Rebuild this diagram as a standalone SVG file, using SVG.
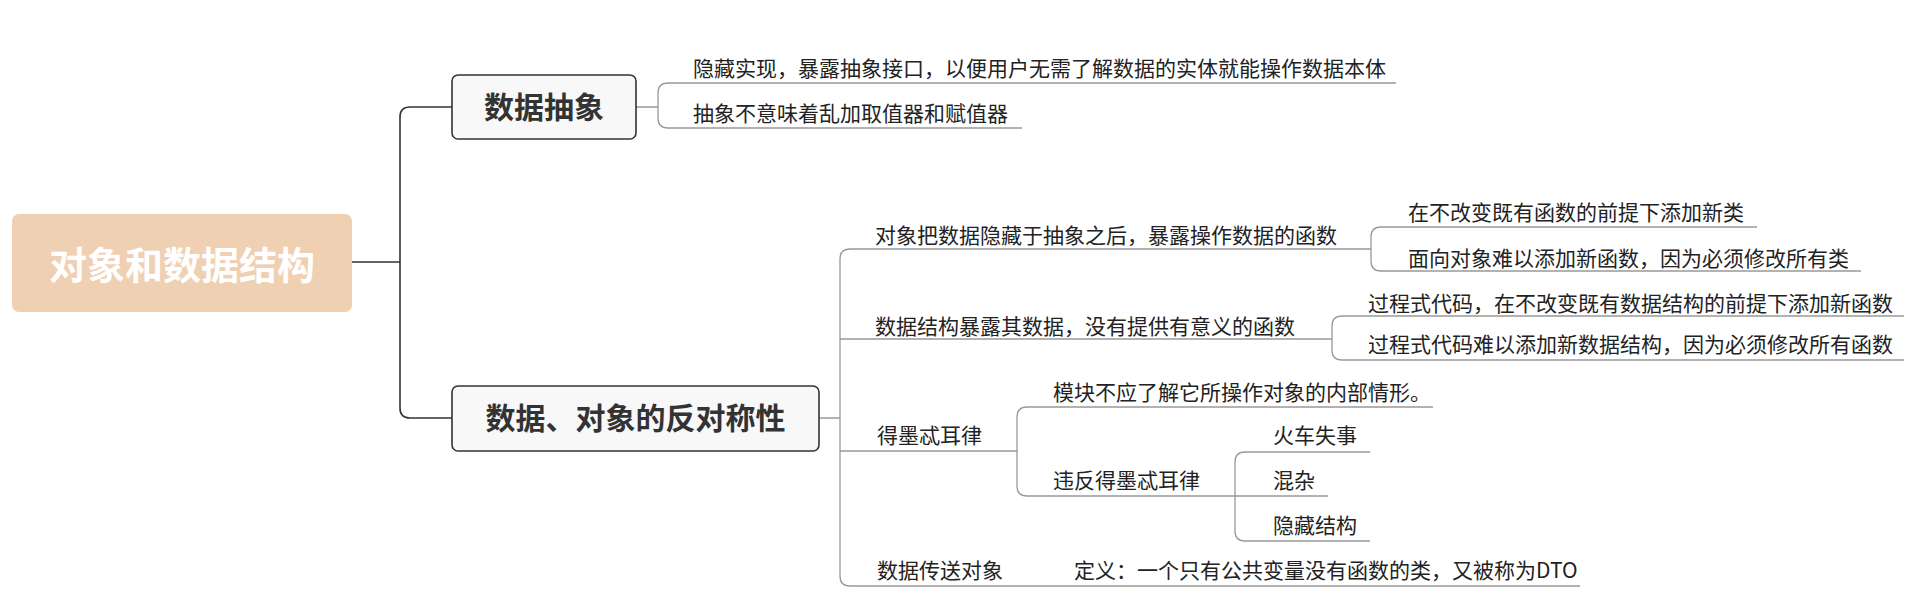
<svg xmlns="http://www.w3.org/2000/svg" width="1920" height="613" viewBox="0 0 1920 613">
<style>
.t{font-family:"Noto Sans CJK SC","Noto Sans",sans-serif;font-size:21px;fill:#222}
.b{font-family:"Noto Sans CJK SC","Noto Sans",sans-serif;font-size:30px;font-weight:700;fill:#333;text-anchor:middle}
.box{fill:#f8f8f8;stroke:#333;stroke-width:1.6}
.dk{fill:none;stroke:#333;stroke-width:1.6}
.ln{fill:none;stroke:#999;stroke-width:1.3}
</style>
<rect width="1920" height="613" fill="#fff"/>
<g id="connectors">
<path class="dk" d="M352,262 H400 M462,107 H410 Q400,107 400,117 V408 Q400,418 410,418 H452"/>
<path class="ln" d="M636,107 H658 M1396,83 H668 Q658,83 658,93 V118 Q658,128 668,128 H1022"/>
<path class="ln" d="M819,418 H840 M1371,249 H850 Q840,249 840,259 V576 Q840,586 850,586 H1580 M840,339 H1332 M840,451 H1017"/>
<path class="ln" d="M1757,227 H1381 Q1371,227 1371,237 V261 Q1371,271 1381,271 H1861"/>
<path class="ln" d="M1904,316 H1342 Q1332,316 1332,326 V350 Q1332,360 1342,360 H1904"/>
<path class="ln" d="M1433,407 H1027 Q1017,407 1017,417 V486 Q1017,496 1027,496 H1235"/>
<path class="ln" d="M1370,452 H1245 Q1235,452 1235,462 V531 Q1235,541 1245,541 H1370 M1235,496 H1328"/>
</g>
<g id="root">
<rect x="12" y="214" width="340" height="98" rx="7" fill="#f0d0b2"/>
<text x="182" y="279" style="font-family:'Noto Sans CJK SC','Noto Sans',sans-serif;font-size:38px;font-weight:700;fill:#fff;text-anchor:middle">对象和数据结构</text>
</g>
<g id="n-abstract">
<rect class="box" x="452" y="75" width="184" height="64" rx="6"/>
<text class="b" x="544" y="118">数据抽象</text>
</g>
<g id="n-abstract-1"><text class="t" x="693" y="76">隐藏实现，暴露抽象接口，以便用户无需了解数据的实体就能操作数据本体</text></g>
<g id="n-abstract-2"><text class="t" x="693" y="121">抽象不意味着乱加取值器和赋值器</text></g>
<g id="n-anti">
<rect class="box" x="452" y="386" width="367" height="65" rx="6"/>
<text class="b" x="635.5" y="429">数据、对象的反对称性</text>
</g>
<g id="n-obj"><text class="t" x="875" y="243">对象把数据隐藏于抽象之后，暴露操作数据的函数</text></g>
<g id="n-obj-1"><text class="t" x="1408" y="220">在不改变既有函数的前提下添加新类</text></g>
<g id="n-obj-2"><text class="t" x="1408" y="266">面向对象难以添加新函数，因为必须修改所有类</text></g>
<g id="n-ds"><text class="t" x="875" y="334">数据结构暴露其数据，没有提供有意义的函数</text></g>
<g id="n-ds-1"><text class="t" x="1368" y="311">过程式代码，在不改变既有数据结构的前提下添加新函数</text></g>
<g id="n-ds-2"><text class="t" x="1368" y="352">过程式代码难以添加新数据结构，因为必须修改所有函数</text></g>
<g id="n-lod"><text class="t" x="877" y="443">得墨忒耳律</text></g>
<g id="n-lod-1"><text class="t" x="1053" y="400">模块不应了解它所操作对象的内部情形。</text></g>
<g id="n-lod-2"><text class="t" x="1053" y="488">违反得墨忒耳律</text></g>
<g id="n-lod-2-1"><text class="t" x="1273" y="443">火车失事</text></g>
<g id="n-lod-2-2"><text class="t" x="1273" y="488">混杂</text></g>
<g id="n-lod-2-3"><text class="t" x="1273" y="533">隐藏结构</text></g>
<g id="n-dto"><text class="t" x="877" y="578">数据传送对象</text></g>
<g id="n-dto-1"><text class="t" x="1074" y="578">定义：一个只有公共变量没有函数的类，又被称为DTO</text></g>
</svg>
